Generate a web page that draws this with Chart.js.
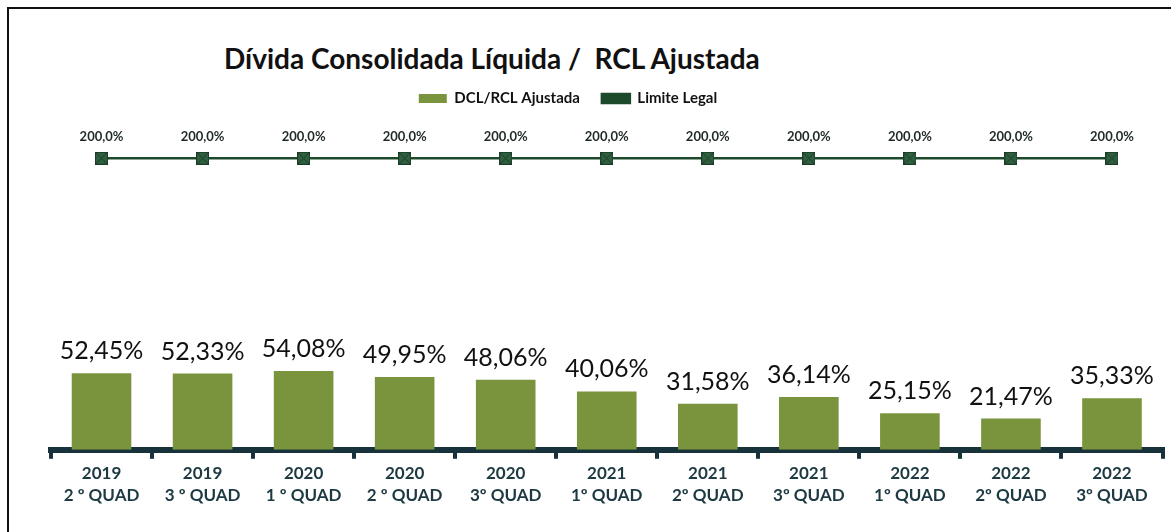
<!DOCTYPE html>
<html>
<head>
<meta charset="utf-8">
<script src="https://cdn.jsdelivr.net/npm/chart.js@4/dist/chart.umd.min.js"></script>
<style>
    html, body { margin: 0; padding: 0; background: #fff; overflow: hidden; }
    body { width: 1171px; height: 532px; position: relative; }
    .frame {
        position: absolute; left: 7px; top: 7px; width: 1200px; height: 560px;
        border-top: 2px solid #111; border-left: 2px solid #111;
    }
    .title {
        position: absolute; left: 224px; top: 41px;
        font: bold 28px Lato, "Open Sans", sans-serif; color: #111; white-space: pre;
    }
    .wrap { position: absolute; left: 0; top: 0; width: 1171px; height: 532px; }
</style>
</head>
<body>
<div class="frame"></div>
<div class="title">Dívida Consolidada Líquida /  RCL Ajustada</div>
<div class="wrap"><canvas id="chart"></canvas></div>
<script>
(function () {
    'use strict';

    var years = ['2019', '2019', '2020', '2020', '2020', '2021', '2021', '2021', '2022', '2022', '2022'];
    var quads = ['2 º QUAD', '3 º QUAD', '1 º QUAD', '2 º QUAD', '3º QUAD', '1º QUAD', '2º QUAD', '3º QUAD', '1º QUAD', '2º QUAD', '3º QUAD'];
    var dclRcl = [52.45, 52.33, 54.08, 49.95, 48.06, 40.06, 31.58, 36.14, 25.15, 21.47, 35.33];
    var limiteLegal = [200, 200, 200, 200, 200, 200, 200, 200, 200, 200, 200];

    var labels = years.map(function (y, i) { return [y, quads[i]]; });

    var barColor = '#7a943e';
    var lineColor = '#1d4a2b';
    var axisColor = '#17323a';
    var fontFamily = 'Lato, "Open Sans", sans-serif';

    // square marker with an x inside, like the Excel one
    function makeMarker() {
        var c = document.createElement('canvas');
        c.width = 13; c.height = 13;
        var ctx = c.getContext('2d');
        ctx.fillStyle = '#2f5e40';
        ctx.fillRect(0, 0, 13, 13);
        ctx.strokeStyle = '#1b3d27';
        ctx.lineWidth = 1;
        ctx.strokeRect(0.5, 0.5, 12, 12);
        ctx.beginPath();
        ctx.moveTo(1, 1); ctx.lineTo(12, 12);
        ctx.moveTo(12, 1); ctx.lineTo(1, 12);
        ctx.stroke();
        return c;
    }

    function fmt(v, d) {
        return v.toFixed(d).replace('.', ',') + '%';
    }

    var valueLabels = {
        id: 'valueLabels',
        afterDatasetsDraw: function (chart) {
            var ctx = chart.ctx;
            ctx.save();
            ctx.textAlign = 'center';
            ctx.textBaseline = 'middle';
            chart.data.datasets.forEach(function (ds, i) {
                var meta = chart.getDatasetMeta(i);
                meta.data.forEach(function (el, j) {
                    if (ds.type === 'line') {
                        ctx.font = 'bold 13px ' + fontFamily;
                        ctx.fillStyle = '#1f2a24';
                        ctx.fillText(fmt(ds.data[j], 1), el.x, el.y - 21);
                    } else {
                        ctx.font = '25px ' + fontFamily;
                        ctx.fillStyle = '#111';
                        ctx.fillText(fmt(ds.data[j], 2), el.x, el.y - 22);
                    }
                });
            });
            ctx.restore();
        }
    };

    // legend sits a bit left of the canvas centre in the original
    var legendShift = {
        id: 'legendShift',
        afterLayout: function (chart) {
            if (chart.legend) chart.legend.left -= 82;
        }
    };

    new Chart(document.getElementById('chart'), {
        type: 'bar',
        data: {
            labels: labels,
            datasets: [{
                label: 'DCL/RCL Ajustada',
                data: dclRcl,
                backgroundColor: barColor,
                borderWidth: 0,
                barPercentage: 0.59,
                categoryPercentage: 1,
                order: 2,
            }, {
                type: 'line',
                label: 'Limite Legal',
                data: limiteLegal,
                borderColor: lineColor,
                backgroundColor: lineColor,
                borderWidth: 2.5,
                pointStyle: makeMarker(),
                pointRadius: 6,
                fill: false,
                order: 1,
            }],
        },
        options: {
            responsive: true,
            maintainAspectRatio: false,
            animation: false,
            layout: { padding: { left: 51, right: 4, top: 69, bottom: 21 } },
            plugins: {
                legend: {
                    display: true,
                    position: 'top',
                    labels: {
                        boxWidth: 28,
                        boxHeight: 9,
                        padding: 22,
                        color: '#111',
                        font: { family: fontFamily, size: 15, weight: 'bold' },
                        sort: function (a, b) { return a.datasetIndex - b.datasetIndex; },
                    },
                },
                tooltip: { enabled: false },
            },
            scales: {
                x: {
                    border: { display: true, color: axisColor, width: 6 },
                    grid: {
                        display: true,
                        offset: true,
                        drawOnChartArea: false,
                        drawTicks: true,
                        tickLength: 9,
                        color: axisColor,
                        lineWidth: 4,
                    },
                    ticks: {
                        color: '#1d3942',
                        padding: 4,
                        maxRotation: 0,
                        font: { family: fontFamily, size: 17, weight: 'bold', lineHeight: 1.3 },
                    },
                },
                y: {
                    display: false,
                    min: 0,
                    max: 229,
                },
            },
        },
        plugins: [valueLabels, legendShift],
    });
})();
</script>
</body>
</html>
